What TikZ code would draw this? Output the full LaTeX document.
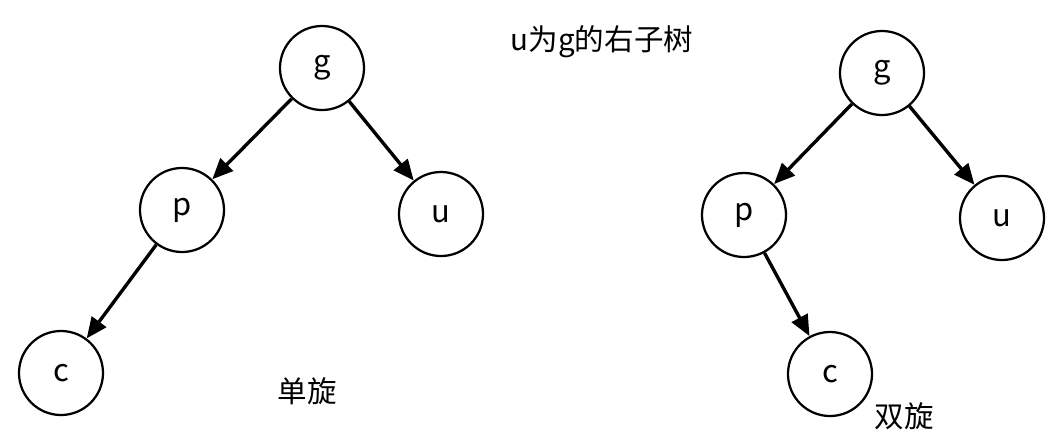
\documentclass[tikz,border=0pt]{standalone}
\usepackage{fontspec}
\setmainfont{Noto Sans CJK SC}
\usepackage{tikz}
\usetikzlibrary{arrows.meta,positioning}

\tikzset{
  treenode/.style = {circle, draw, line width=1.6pt, minimum size=2.1cm, inner sep=0pt, font=\fontsize{22}{24}\selectfont},
  treeedge/.style = {line width=2.4pt, -{Triangle[length=0.52cm,width=0.44cm]}},
  caption/.style = {font=\fontsize{21}{24}\selectfont}
}

\begin{document}
\begin{tikzpicture}[x=0.025cm, y=-0.025cm]
\useasboundingbox (0,0) rectangle (1055,437);

% single rotation
\node[treenode] (g1) at (322,68) {g};
\node[treenode] (p1) at (182,210) {p};
\node[treenode] (u1) at (441,214) {u};
\node[treenode] (c1) at (61,373) {c};
\draw[treeedge] (g1) -- (p1);
\draw[treeedge] (g1) -- (u1);
\draw[treeedge] (p1) -- (c1);
\node[caption] (single) at (307,391) {单旋};

\node[caption] (title) at (602,42) {u为g的右子树};

% double rotation
\node[treenode] (g2) at (882,73) {g};
\node[treenode] (p2) at (744,215) {p};
\node[treenode] (u2) at (1002,218) {u};
\node[treenode] (c2) at (830,374) {c};
\draw[treeedge] (g2) -- (p2);
\draw[treeedge] (g2) -- (u2);
\draw[treeedge] (p2) -- (c2);
\node[caption] (double) at (904,416) {双旋};
\end{tikzpicture}
\end{document}
